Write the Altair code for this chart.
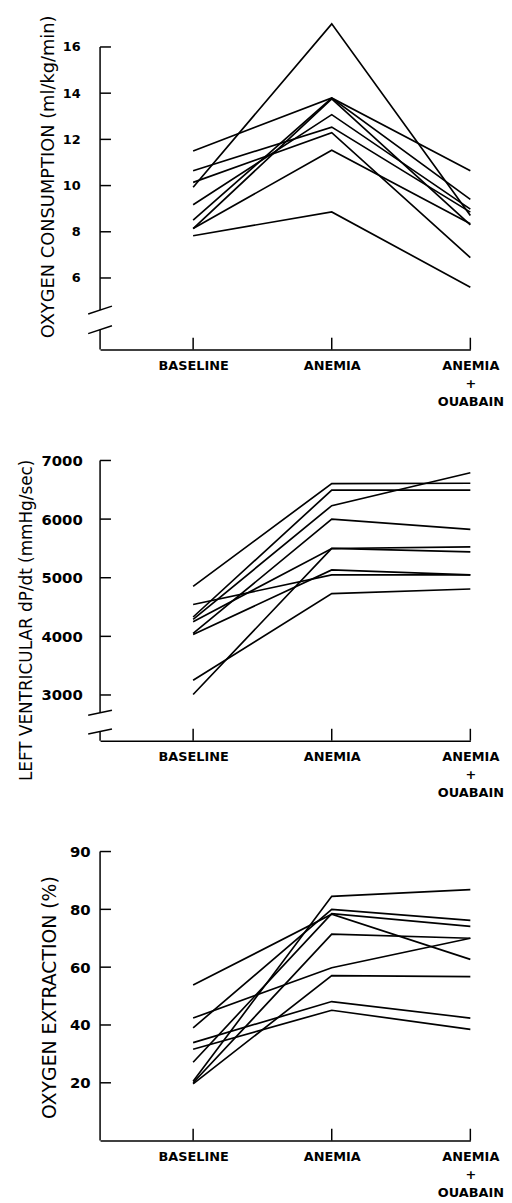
import altair as alt
import pandas as pd

# ---------------- data ----------------
conditions = [1, 2, 3]  # BASELINE, ANEMIA, ANEMIA + OUABAIN

# Panel 1: oxygen consumption (ml/kg/min)
vo2_baseline = [11.5, 8.5, 8.14, 9.17, 10.64, 10.14, 8.14, 9.93, 7.83]
vo2_anemia = [13.79, 13.79, 13.75, 13.07, 12.53, 12.29, 11.53, 17.0, 8.86]
vo2_ouabain = [10.64, 9.4, 8.3, 8.98, 8.85, 6.88, 8.35, 8.7, 5.6]
vo2_ticks = [6, 8, 10, 12, 14, 16]
vo2_tick_labels = ["6", "8", "10", "12", "14", "16"]

# Panel 2: left ventricular dP/dt (mmHg/sec)
dpdt_baseline = [4852, 4330, 4290, 4050, 4250, 4030, 4543, 3250, 3008]
dpdt_anemia = [6606, 6494, 6229, 5998, 5499, 5133, 5049, 4729, 5499]
dpdt_ouabain = [6612, 6494, 6791, 5825, 5526, 5049, 5049, 4808, 5442]
dpdt_ticks = [3000, 4000, 5000, 6000, 7000]
dpdt_tick_labels = ["3000", "4000", "5000", "6000", "7000"]

# Panel 3: oxygen extraction (%)
o2e_baseline = [53.8, 42.4, 39.0, 33.9, 31.6, 27.1, 20.5, 20.0, 19.6]
o2e_anemia = [78.3, 59.8, 80.0, 48.1, 45.1, 78.5, 84.5, 71.4, 57.1]
o2e_ouabain = [62.7, 70.0, 76.2, 42.4, 38.5, 74.1, 86.8, 70.0, 56.7]
o2e_ticks = [20, 40, 60, 80, 100]
o2e_tick_labels = ["20", "40", "60", "80", "90"]

FONT = "DejaVu Sans"
XMIN = 1 - 94 / 140
W = 374


def long_df(b, a, o):
    rows = []
    for i, vals in enumerate(zip(b, a, o)):
        for c, v in zip(conditions, vals):
            rows.append({"subject": i, "cond": c, "value": v})
    return pd.DataFrame(rows)


X_LABELS = ("datum.value == 1 ? 'BASELINE' : datum.value == 2 ? 'ANEMIA' : "
            "['ANEMIA', '+', 'OUABAIN']")


def panel(b, a, o, ydom, height, ticks, tick_labels, title, title_size,
          title_x, title_y, label_size, label_pad, segs, breaks, slant):
    df = long_df(b, a, o)
    xs = alt.Scale(domain=[XMIN, 3], nice=False, zero=False)
    ys = alt.Scale(domain=ydom, nice=False, zero=False)
    expr = " : ".join(
        f"datum.value == {t} ? '{l}'" for t, l in zip(ticks, tick_labels)
    ) + " : datum.label"
    y_axis = alt.Axis(
        values=ticks, labelExpr=expr, domain=False, ticks=False, grid=False,
        labelPadding=label_pad, labelFont=FONT, labelFontWeight="bold",
        labelFontSize=label_size, labelColor="black",
        title=title, titleFont=FONT, titleFontSize=title_size,
        titleFontWeight="normal", titleColor="black", titleX=title_x,
        titleY=title_y, titleBaseline="alphabetic",
    )
    x_axis = alt.Axis(
        values=conditions, labelExpr=X_LABELS, domain=True, domainColor="black",
        domainWidth=1.5, ticks=False, grid=False, labelPadding=10,
        labelFont=FONT, labelFontWeight="bold", labelFontSize=13,
        labelLineHeight=18, labelColor="black", title=None, labelAngle=0,
        labelAlign="center", labelFlush=False, labelOverlap=False,
    )
    X = alt.X("cond:Q", scale=xs, axis=x_axis)
    Y = alt.Y("value:Q", scale=ys, axis=y_axis)

    lines = alt.Chart(df).mark_line(color="black", strokeWidth=1.7).encode(
        x=X, y=Y, detail="subject:N", order="cond:Q",
    )
    seg_df = pd.DataFrame({"value": [s[0] for s in segs],
                           "value2": [s[1] for s in segs]})
    yline = alt.Chart(seg_df).mark_rule(color="black", strokeWidth=1.5).encode(
        x=alt.value(0), y=Y, y2="value2:Q",
    )
    tick_df = pd.DataFrame({"value": ticks})
    yticks = alt.Chart(tick_df).mark_rule(color="black", strokeWidth=1.5).encode(
        x=alt.value(0), x2=alt.value(11), y=Y,
    )
    xtick_df = pd.DataFrame({"cond": conditions})
    xticks = alt.Chart(xtick_df).mark_rule(color="black", strokeWidth=1.5).encode(
        x=X, y=alt.value(height), y2=alt.value(height - 12),
    )
    layers = [lines, yline, yticks, xticks]
    if breaks:
        brk_df = pd.DataFrame({"value": [v - slant for v in breaks],
                               "value2": [v + slant for v in breaks]})
        brk = alt.Chart(brk_df).mark_rule(color="black", strokeWidth=1.5).encode(
            x=alt.value(-12), x2=alt.value(12), y=Y, y2="value2:Q",
        )
        layers.append(brk)
    return alt.layer(*layers).properties(width=W, height=height)


p1 = panel(vo2_baseline, vo2_anemia, vo2_ouabain, [2.9, 17.0], 329,
           vo2_ticks, vo2_tick_labels, "OXYGEN CONSUMPTION (ml/kg/min)", 18,
           -47, 154, 13, 20, [(16, 4.61), (3.76, 2.9)], [4.61, 3.76], 0.17)
p2 = panel(dpdt_baseline, dpdt_anemia, dpdt_ouabain, [2221, 7000], 283,
           dpdt_ticks, dpdt_tick_labels, "LEFT VENTRICULAR dP/dt (mmHg/sec)", 17,
           -69, 161, 15, 18, [(7000, 2697), (2376, 2221)], [2697, 2376], 42)
p3 = panel(o2e_baseline, o2e_anemia, o2e_ouabain, [0, 100], 292,
           o2e_ticks, o2e_tick_labels, "OXYGEN EXTRACTION (%)", 19,
           -45, 147, 15, 10, [(100, 0)], [], 0)

chart = alt.vconcat(p1, p2, p3, spacing=46).properties(
    padding={"top": 0, "left": 10, "right": 0, "bottom": 0},
    background="white",
).configure_view(stroke=None)

chart.save("out.html", embed_options={"renderer": "svg", "actions": False})
